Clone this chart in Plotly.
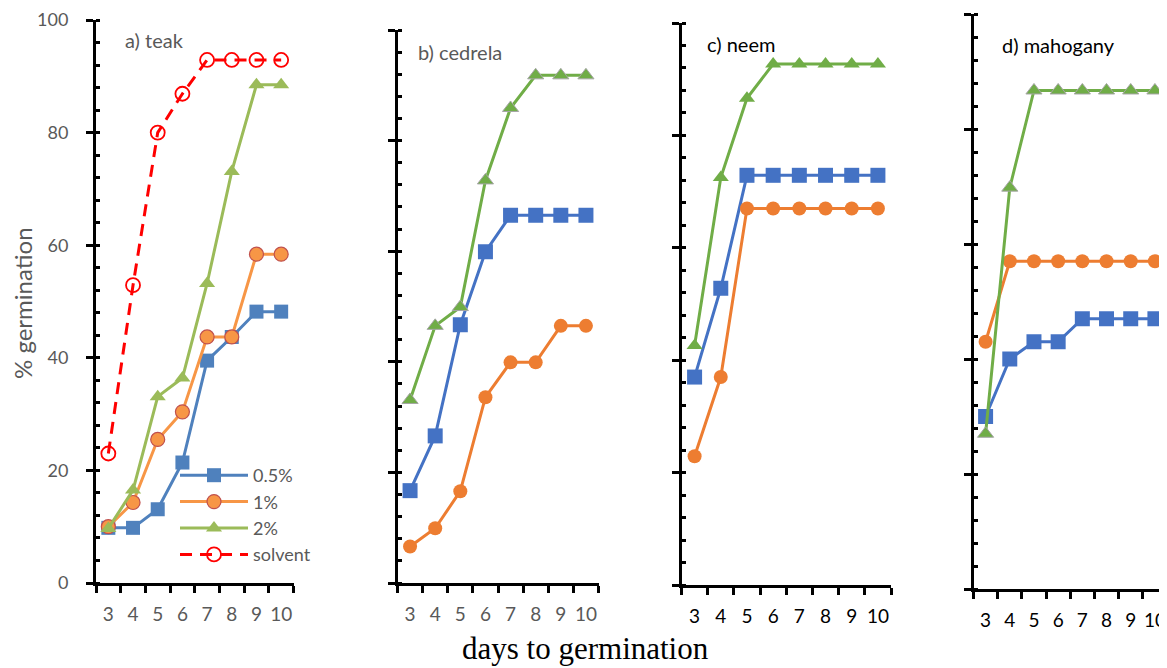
import plotly.graph_objects as go

days = [3, 4, 5, 6, 7, 8, 9, 10]

teak_05 = [9.8, 9.8, 13.1, 21.4, 39.5, 43.7, 48.2, 48.2]
teak_1 = [10.0, 14.3, 25.5, 30.4, 43.7, 43.7, 58.4, 58.4]
teak_2 = [9.7, 16.5, 33.1, 36.4, 53.2, 73.1, 88.5, 88.5]
teak_solvent = [23.0, 52.9, 80.0, 86.9, 92.9, 92.9, 92.9, 92.9]

cedrela_05 = [16.7, 26.6, 46.7, 59.9, 66.5, 66.5, 66.5, 66.5]
cedrela_1 = [6.6, 9.9, 16.6, 33.6, 39.9, 39.9, 46.5, 46.5]
cedrela_2 = [33.1, 46.5, 49.9, 72.8, 85.9, 91.8, 91.8, 91.8]

neem_05 = [37.0, 52.8, 72.9, 72.9, 72.9, 72.9, 72.9, 72.9]
neem_1 = [22.9, 37.0, 67.0, 67.0, 67.0, 67.0, 67.0, 67.0]
neem_2 = [42.6, 72.5, 86.6, 92.7, 92.7, 92.7, 92.7, 92.7]

mahog_05 = [30.0, 40.0, 43.0, 43.0, 47.0, 47.0, 47.0, 47.0]
mahog_1 = [43.0, 57.0, 57.0, 57.0, 57.0, 57.0, 57.0, 57.0]
mahog_2 = [27.0, 69.8, 86.7, 86.7, 86.7, 86.7, 86.7, 86.7]

# page body has an 8px margin; size the figure to fill the rest of the window
OFF = 8
W, H = 1167 - OFF, 668 - OFF
FONT = "Lato"
GRAY = "#595959"


def fx(px):
    return min(max((px - OFF) / W, 0.0), 1.0)


def fy(py):
    return min(max(1 - (py - OFF) / H, 0.0), 1.0)


# panel boxes in screen pixels: (left, right, top, bottom)
boxes = [
    (96, 293.5, 20, 583),
    (397.5, 598.5, 30, 583),
    (681.5, 891, 23, 585),
    (973.5, 1167, 14, 589),
]

fig = go.Figure()


def add(i, y, name, color, symbol, size, mline_color=None, mline_w=0, legend=False,
        dash="solid", fill=None):
    ax = "" if i == 0 else str(i + 1)
    fig.add_trace(go.Scatter(
        x=days, y=y, name=name, mode="lines+markers",
        xaxis="x" + ax, yaxis="y" + ax,
        line=dict(color=color, width=3, dash=dash),
        marker=dict(symbol=symbol, size=size, color=fill if fill else color,
                    line=dict(color=mline_color if mline_color else color, width=mline_w)),
        showlegend=legend, cliponaxis=False,
    ))


# a) teak (older Office palette)
add(0, teak_05, "0.5%", "#4F81BD", "square", 14, legend=True)
add(0, teak_1, "1%", "#F79646", "circle", 14, mline_color="#C0504D", mline_w=1.2, legend=True)
add(0, teak_2, "2%", "#9BBB59", "triangle-up", 14, legend=True)
add(0, teak_solvent, "solvent", "#FF0000", "circle-open", 14, mline_w=1.8, legend=True,
    dash="12px,8px")

# b) cedrela
add(1, cedrela_05, "0.5%", "#4472C4", "square", 15)
add(1, cedrela_1, "1%", "#ED7D31", "circle", 14)
add(1, cedrela_2, "2%", "#70AD47", "triangle-up", 14, mline_color="#A5A5A5", mline_w=1)

# c) neem
add(2, neem_05, "0.5%", "#4472C4", "square", 15)
add(2, neem_1, "1%", "#ED7D31", "circle", 14)
add(2, neem_2, "2%", "#70AD47", "triangle-up", 14)

# d) mahogany
add(3, mahog_05, "0.5%", "#4472C4", "square", 15)
add(3, mahog_1, "1%", "#ED7D31", "circle", 14)
add(3, mahog_2, "2%", "#70AD47", "triangle-up", 14, mline_color="#A5A5A5", mline_w=1)

layout = dict(
    width=W, height=H, autosize=False,
    margin=dict(l=0, r=0, t=0, b=0, pad=0, autoexpand=False),
    paper_bgcolor="white", plot_bgcolor="white",
    font=dict(family=FONT, size=16, color=GRAY),
    showlegend=True,
    legend=dict(
        x=fx(175), y=fy(457), xanchor="left", yanchor="top",
        bgcolor="rgba(0,0,0,0)", font=dict(family=FONT, size=18, color=GRAY),
        tracegroupgap=0, itemwidth=68,
    ),
)

tick_colors = [GRAY, GRAY, "black", "black"]
boundaries = [2.5 + k for k in range(9)]
for i, (l, r, t, b) in enumerate(boxes):
    ax = "" if i == 0 else str(i + 1)
    layout["xaxis" + ax] = dict(
        domain=[fx(l), fx(r)], anchor="y" + ax, automargin=False,
        range=[2.5, 10.5], showgrid=False, zeroline=False,
        showline=True, linecolor="black", linewidth=3,
        tickmode="array", tickvals=days, ticktext=[str(d) for d in days],
        ticks="", ticklabelstandoff=12,
        tickfont=dict(family=FONT, size=19, color=tick_colors[i]),
        minor=dict(tickmode="array", tickvals=boundaries, ticks="outside",
                   ticklen=7, tickwidth=3, tickcolor="black", showgrid=False),
        fixedrange=True,
    )
    layout["yaxis" + ax] = dict(
        domain=[fy(b), fy(t)], anchor="x" + ax, automargin=False,
        range=[0, 100], showgrid=False, zeroline=False,
        showline=True, linecolor="black", linewidth=3,
        tickmode="linear", tick0=0, dtick=20,
        ticks="outside", ticklen=7, tickwidth=3, tickcolor="black",
        showticklabels=(i == 0), ticklabelstandoff=14,
        tickfont=dict(family=FONT, size=18, color=GRAY),
        minor=dict(tickmode="linear", tick0=0, dtick=4, ticks="inside",
                   ticklen=4, tickwidth=3, tickcolor="black", showgrid=False),
        fixedrange=True,
    )

fig.update_layout(**layout)

titles = [("a) teak", 123, 40, GRAY), ("b) cedrela", 416, 52, GRAY),
          ("c) neem", 705, 44, "black"), ("d) mahogany", 1000, 45, "black")]
for txt, px, py, col in titles:
    fig.add_annotation(text=txt, x=fx(px), y=fy(py), xref="paper", yref="paper",
                       xanchor="left", yanchor="middle", showarrow=False,
                       font=dict(family=FONT, size=20, color=col))

fig.add_annotation(text="% germination", x=fx(22), y=fy(303), xref="paper", yref="paper",
                   textangle=-90, showarrow=False, xanchor="center", yanchor="middle",
                   font=dict(family=FONT, size=24, color=GRAY))
fig.add_annotation(text="days to germination", x=fx(585), y=fy(648), xref="paper",
                   yref="paper", showarrow=False, xanchor="center", yanchor="middle",
                   font=dict(family="Liberation Serif", size=31, color="black"))

fig.write_html("out.html")
